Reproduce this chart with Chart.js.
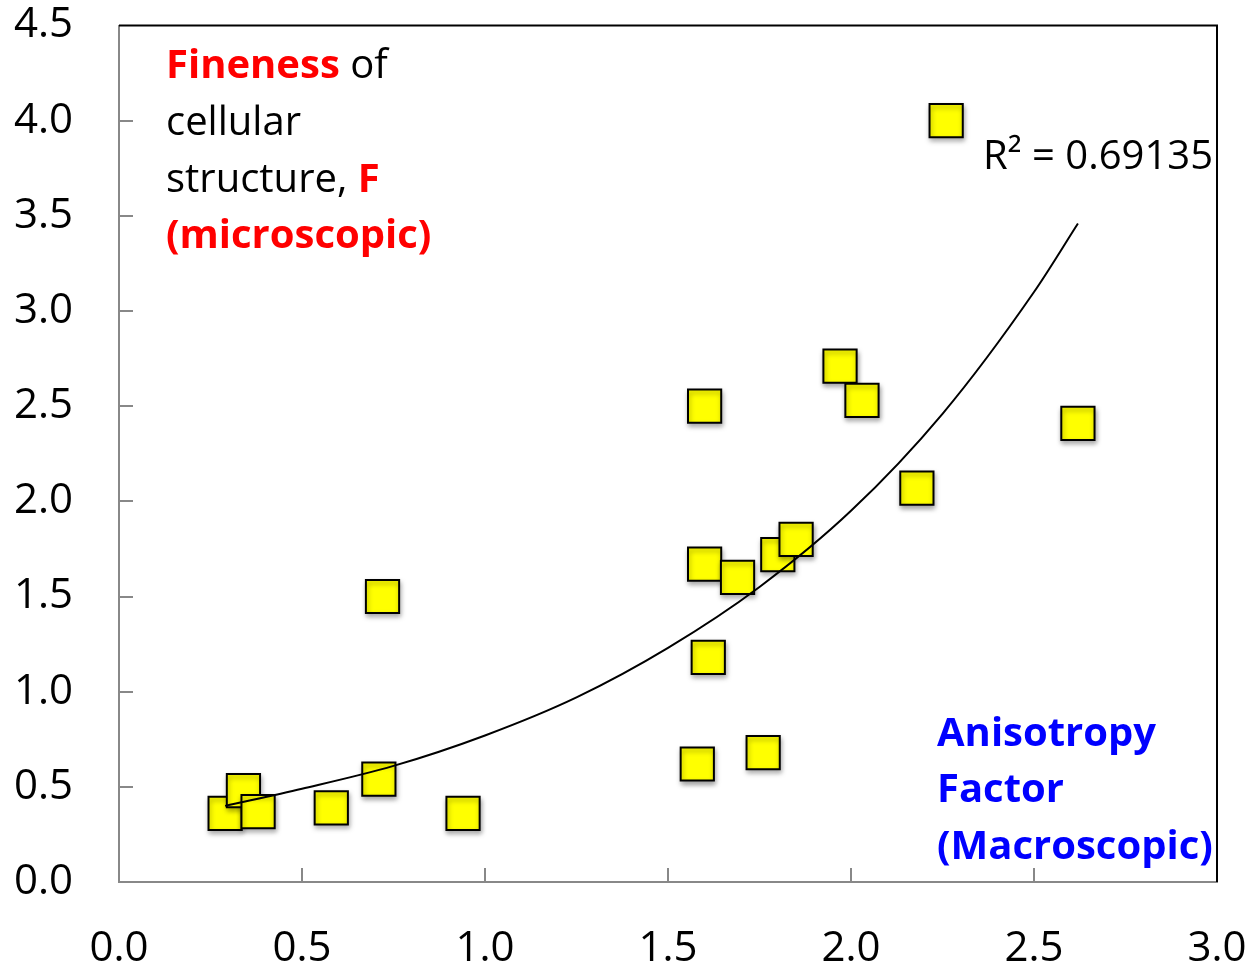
<!DOCTYPE html>
<html>
<head>
<meta charset="utf-8">
<script src="https://cdn.jsdelivr.net/npm/chart.js@4"></script>
<style>
  html, body { margin: 0; padding: 0; background: #fff; }
  #wrap { width: 1258px; height: 965px; }
</style>
</head>
<body>
<div id="wrap"><canvas id="fineness" width="1258" height="965"></canvas></div>
<script>
// anisotropy factor (x) vs fineness F (y)
const anisotropy = [0.29, 0.34, 0.38, 0.58, 0.71, 0.72, 0.94, 1.58, 1.60, 1.60, 1.61, 1.69, 1.76, 1.80, 1.85, 1.97, 2.03, 2.18, 2.26, 2.62];
const fineness   = [0.36, 0.48, 0.37, 0.39, 0.54, 1.50, 0.36, 0.62, 2.50, 1.67, 1.18, 1.60, 0.68, 1.72, 1.80, 2.71, 2.53, 2.07, 4.00, 2.41];

// exponential trend line, sampled from the drawn curve
const trendX = [0.29, 0.50, 0.75, 1.00, 1.25, 1.50, 1.75, 2.00, 2.25, 2.50, 2.62];
const trendY = [0.40, 0.49, 0.61, 0.77, 0.97, 1.23, 1.55, 1.95, 2.46, 3.10, 3.46];

const xTicks = [0, 0.5, 1, 1.5, 2, 2.5, 3];
const yTicks = [0, 0.5, 1, 1.5, 2, 2.5, 3, 3.5, 4, 4.5];
const rSquared = 'R² = 0.69135';

const FONT = '"Open Sans", "DejaVu Sans", sans-serif';

const points = anisotropy.map((x, i) => ({ x: x, y: fineness[i] }));
const trend = trendX.map((x, i) => ({ x: x, y: trendY[i] }));

// drop shadow under the squares
const shadowPlugin = {
  id: 'shadow',
  beforeDatasetDraw(chart, args) {
    if (args.index !== 0) return;
    const ctx = chart.ctx;
    ctx.save();
    ctx.shadowColor = 'rgba(0,0,0,0.35)';
    ctx.shadowBlur = 5;
    ctx.shadowOffsetX = 1;
    ctx.shadowOffsetY = 3;
  },
  afterDatasetDraw(chart, args) {
    if (args.index !== 0) return;
    chart.ctx.restore();
  }
};

// frame, inward ticks and the text notes
const decorPlugin = {
  id: 'decor',
  afterDraw(chart) {
    const ctx = chart.ctx;
    const a = chart.chartArea;
    const xs = chart.scales.x, ys = chart.scales.y;
    ctx.save();
    // top and right border in black
    ctx.strokeStyle = '#000';
    ctx.lineWidth = 2;
    ctx.beginPath();
    ctx.moveTo(a.left, a.top);
    ctx.lineTo(a.right, a.top);
    ctx.lineTo(a.right, a.bottom);
    ctx.stroke();
    // inward tick marks
    ctx.strokeStyle = '#888';
    ctx.lineWidth = 2;
    ctx.beginPath();
    yTicks.forEach(v => {
      if (v === 0 || v === 4.5) return;
      const py = Math.round(ys.getPixelForValue(v));
      ctx.moveTo(a.left, py);
      ctx.lineTo(a.left + 14, py);
    });
    xTicks.forEach(v => {
      if (v === 0 || v === 3) return;
      const px = Math.round(xs.getPixelForValue(v));
      ctx.moveTo(px, a.bottom);
      ctx.lineTo(px, a.bottom - 14);
    });
    ctx.stroke();

    ctx.textBaseline = 'middle';
    ctx.textAlign = 'left';
    const normal = '40px ' + FONT;
    const bold = 'bold 40px ' + FONT;
    function runs(x, y, parts) {
      parts.forEach(p => {
        ctx.font = p[2] ? bold : normal;
        ctx.fillStyle = p[1];
        ctx.fillText(p[0], x, y);
        x += ctx.measureText(p[0]).width;
      });
    }
    runs(166, 67, [['Fineness', '#ff0000', true], [' of', '#000', false]]);
    runs(166, 124, [['cellular', '#000', false]]);
    runs(166, 181, [['structure, ', '#000', false], ['F', '#ff0000', true]]);
    runs(166, 237, [['(microscopic)', '#ff0000', true]]);

    runs(937, 735, [['Anisotropy', '#0000ff', true]]);
    runs(937, 791, [['Factor', '#0000ff', true]]);
    runs(937, 848, [['(Macroscopic)', '#0000ff', true]]);

    ctx.textAlign = 'right';
    ctx.font = normal;
    ctx.fillStyle = '#000';
    ctx.fillText(rSquared, 1213, 158);
    ctx.restore();
  }
};

function noPad(s) {
  s.paddingTop = 0;
  s.paddingBottom = 0;
  s.paddingLeft = 0;
  s.paddingRight = 0;
}

new Chart(document.getElementById('fineness'), {
  type: 'scatter',
  data: {
    datasets: [
      {
        label: 'F',
        data: points,
        pointStyle: 'rect',
        pointRadius: 23.5,
        pointHoverRadius: 23.5,
        backgroundColor: '#ffff00',
        borderColor: '#000',
        pointBorderWidth: 2,
        order: 1
      },
      {
        label: 'trend',
        type: 'line',
        data: trend,
        showLine: true,
        borderColor: '#000',
        borderWidth: 2,
        pointRadius: 0,
        cubicInterpolationMode: 'monotone',
        fill: false,
        order: 0
      }
    ]
  },
  plugins: [shadowPlugin, decorPlugin],
  options: {
    responsive: false,
    animation: false,
    events: [],
    layout: { padding: { top: 19, right: 41, left: 0, bottom: 0 } },
    plugins: {
      legend: { display: false },
      tooltip: { enabled: false }
    },
    scales: {
      x: {
        type: 'linear',
        min: 0,
        max: 3,
        afterBuildTicks: s => { s.ticks = xTicks.map(v => ({ value: v })); },
        afterFit: s => { s.height = 83; noPad(s); },
        grid: { display: false },
        border: { display: true, color: '#888', width: 2 },
        ticks: {
          color: '#000',
          padding: 34,
          font: { family: FONT, size: 42 },
          maxRotation: 0,
          callback: v => v.toFixed(1)
        }
      },
      y: {
        type: 'linear',
        min: 0,
        max: 4.5,
        afterBuildTicks: s => { s.ticks = yTicks.map(v => ({ value: v })); },
        afterFit: s => { s.width = 119; noPad(s); },
        grid: { display: false },
        border: { display: true, color: '#888', width: 2 },
        ticks: {
          color: '#000',
          padding: 38,
          font: { family: FONT, size: 42 },
          callback: v => v.toFixed(1)
        }
      }
    }
  }
});
</script>
</body>
</html>
